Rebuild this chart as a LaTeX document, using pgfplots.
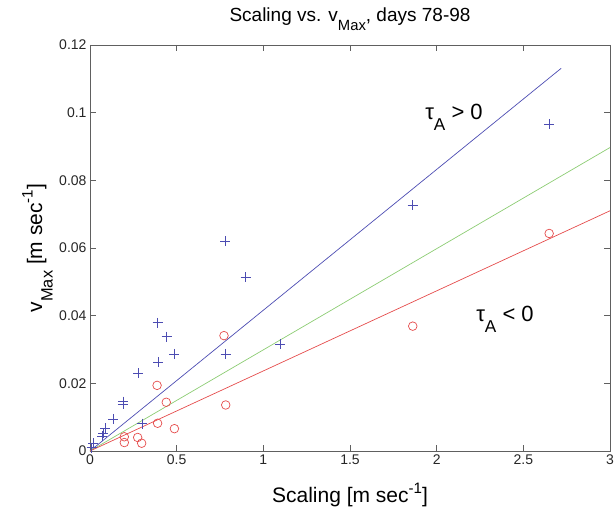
\documentclass[border=0pt]{standalone}
\usepackage{fontspec}
\setmainfont{Liberation Sans}
\usepackage{pgfplots}
\pgfplotsset{compat=1.18}
\usepackage{graphicx}
\definecolor{mblue}{rgb}{0.30,0.30,0.70}
\definecolor{mred}{rgb}{0.90,0.30,0.30}
\definecolor{mgreen}{rgb}{0.55,0.80,0.45}
\newcommand\msub[1]{\raisebox{-0.5em}{\scalebox{0.78}{#1}}}
\newcommand\msup[1]{\raisebox{0.45em}{\scalebox{0.72}{#1}}}
\begin{document}
\begin{tikzpicture}
\begin{axis}[
  at={(0pt,0pt)}, anchor=south west,
  scale only axis, width=520pt, height=406pt,
  xmin=0, xmax=3, ymin=0, ymax=0.12,
  xtick={0,0.5,1,1.5,2,2.5,3},
  ytick={0,0.02,0.04,0.06,0.08,0.1,0.12},
  scaled y ticks=false, scaled x ticks=false,
  yticklabel style={/pgf/number format/fixed, /pgf/number format/precision=2},
  /pgf/number format/assume math mode=true,
  tick label style={font=\fontsize{14}{16}\selectfont, text=black!85},
  tick align=inside, major tick length=6pt,
  axis line style={gray!75!black, line width=0.9pt},
  tick style={gray!75!black, line width=0.8pt},
  xlabel={Scaling [m sec\msup{-1}]},
  ylabel={v\msub{Max} [m sec\msup{-1}]},
  title={Scaling vs. v\msub{Max}, days 78-98},
  xlabel style={font=\fontsize{21}{24}\selectfont, at={(axis description cs:0.5,-0.128)}, anchor=base},
  ylabel style={font=\fontsize{21}{24}\selectfont, at={(axis description cs:-0.0923,0.5)}, anchor=base, rotate=0},
  title style={font=\fontsize{19}{22}\selectfont, at={(axis description cs:0.5,1.044)}, anchor=base},
  clip=false,
]
% fitted lines
\addplot[mblue, line width=0.7pt] coordinates {(0,0) (2.718,0.1131)};
\addplot[mgreen, line width=0.7pt] coordinates {(0,0) (3,0.0897)};
\addplot[mred, line width=0.7pt] coordinates {(0,0) (3,0.071)};
% tau_A > 0
\addplot[only marks, mark=+, mark size=5pt, mblue, mark options={line width=0.7pt}] coordinates {
 (0.01,0.001) (0.02,0.0023) (0.071,0.0044) (0.077,0.0052) (0.087,0.0067)
 (0.134,0.0095) (0.19,0.0146) (0.19,0.0138) (0.279,0.023) (0.30,0.0081)
 (0.39,0.0379) (0.394,0.0263) (0.442,0.0338) (0.487,0.0287) (0.78,0.062)
 (0.783,0.0287) (0.898,0.0513) (1.096,0.0316) (1.862,0.0726) (2.649,0.0966)
};
% tau_A < 0
\addplot[only marks, mark=o, mark size=4.3pt, mred, mark options={line width=0.7pt}] coordinates {
 (0.198,0.0042) (0.198,0.0025) (0.275,0.004) (0.298,0.0023) (0.387,0.0194)
 (0.39,0.0082) (0.44,0.0144) (0.487,0.0066) (0.773,0.0341) (0.783,0.0136)
 (1.862,0.0369) (2.649,0.0643)
};
\node[anchor=base west, font=\fontsize{22}{24}\selectfont] at (axis cs:1.914,0.0981) {τ\msub{A} > 0};
\node[anchor=base west, font=\fontsize{22}{24}\selectfont] at (axis cs:2.208,0.0382) {τ\msub{A} < 0};
\end{axis}
\pgfresetboundingbox
\path[use as bounding box] (-90pt,-60pt) rectangle (525pt,451pt);
\end{tikzpicture}
\end{document}
